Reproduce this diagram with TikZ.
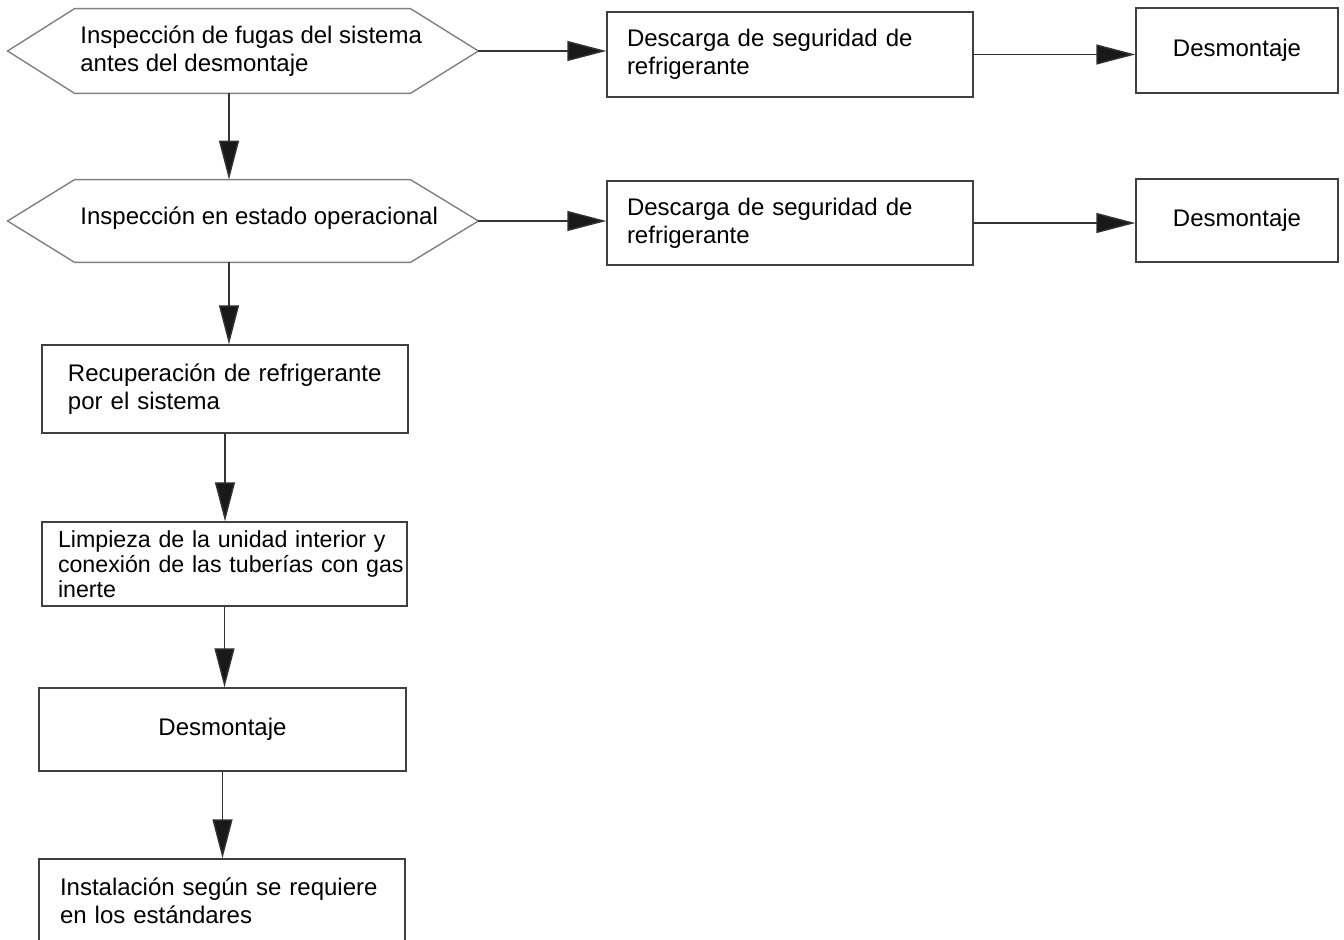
\documentclass[tikz,border=0pt]{standalone}
\usepackage{fontspec}
\setmainfont{Liberation Sans}
\usepackage{tikz}
\usetikzlibrary{arrows.meta, calc, positioning}

\tikzset{
	box/.style={draw=black!75, line width=0.7pt, rectangle, inner ysep=0pt,
		font=\fontsize{12}{14}\selectfont, align=left},
	hexa/.style={rectangle, inner sep=0pt},
	hexline/.style={draw=black!50, line width=0.7pt},
	txt/.style={inner sep=0pt, align=left, font=\fontsize{12}{14}\selectfont},
	arr/.style={draw=black!80, line width=0.7pt,
		-{Triangle[length=19.5pt, width=10pt, fill=black!90]}}
}

\begin{document}
\begin{tikzpicture}[x=0.5pt, y=-0.5pt]
	\useasboundingbox (0,0) rectangle (1344,940);
	% hexagonos
	\node[hexa, minimum width=235pt, minimum height=42pt] (h1) at (243,51) {};
	\node[hexa, minimum width=235pt, minimum height=41pt] (h2) at (243,221) {};
	\foreach \h in {h1,h2}
	\draw[hexline] (\h.west) -- ([xshift=33.5pt]\h.north west) -- ([xshift=-34pt]\h.north east)
		-- (\h.east) -- ([xshift=-34pt]\h.south east) -- ([xshift=33.5pt]\h.south west) -- cycle;
	\node[txt, anchor=west] (h1txt) at (80,51) {Inspección de fugas del sistema\\antes del desmontaje};
	\node[txt, anchor=west] (h2txt) at (80,218) {Inspección en estado operacional};
	% columna derecha
	\node[box, minimum width=183pt, minimum height=42.5pt, inner xsep=10pt, text width=163pt] (d1) at (790,54.5)
		{Descarga de seguridad de\\refrigerante};
	\node[box, minimum width=101pt, minimum height=42.5pt, align=center] (m1) at (1237,50.5) {Desmontaje};
	\node[box, minimum width=183pt, minimum height=42pt, inner xsep=10pt, text width=163pt] (d2) at (790,223)
		{Descarga de seguridad de\\refrigerante};
	\node[box, minimum width=101pt, minimum height=41.5pt, align=center] (m2) at (1237,220.5) {Desmontaje};
	% columna izquierda
	\node[box, minimum width=183pt, minimum height=44pt, inner xsep=13pt, text width=157pt] (rec) at (225,389)
		{Recuperación de refrigerante\\por el sistema};
	\node[box, minimum width=182.5pt, minimum height=42pt, inner xsep=8pt, text width=166.5pt,
		font=\fontsize{11.6}{12.5}\selectfont] (lim) at (224.5,564)
		{Limpieza de la unidad interior y\\\mbox{conexión de las tuberías con gas}\\inerte};
	\node[box, minimum width=183.5pt, minimum height=41.5pt, align=center] (des) at (222.5,729.5) {Desmontaje};
	\node[box, minimum width=183pt, minimum height=42pt, inner xsep=10.5pt, text width=162pt] (ins) at (222,901)
		{Instalación según se requiere\\en los estándares};
	% flechas
	\coordinate (c1) at ([xshift=-7pt]h1.south);
	\coordinate (c2) at ([xshift=-7pt]h2.south);
	\draw[arr] (c1) -- (c1 |- h2.north);
	\draw[arr] (c2) -- (c2 |- rec.north);
	\draw[arr] (rec.south) -- (rec.south |- lim.north);
	\draw[arr] (lim.south) -- (lim.south |- des.north);
	\draw[arr] (des.south) -- (des.south |- ins.north);
	\draw[arr] (h1.east) -- (h1.east -| d1.west);
	\draw[arr] (d1.east) -- (d1.east -| m1.west);
	\draw[arr] (h2.east) -- (h2.east -| d2.west);
	\draw[arr] (d2.east) -- (d2.east -| m2.west);
\end{tikzpicture}
\end{document}
